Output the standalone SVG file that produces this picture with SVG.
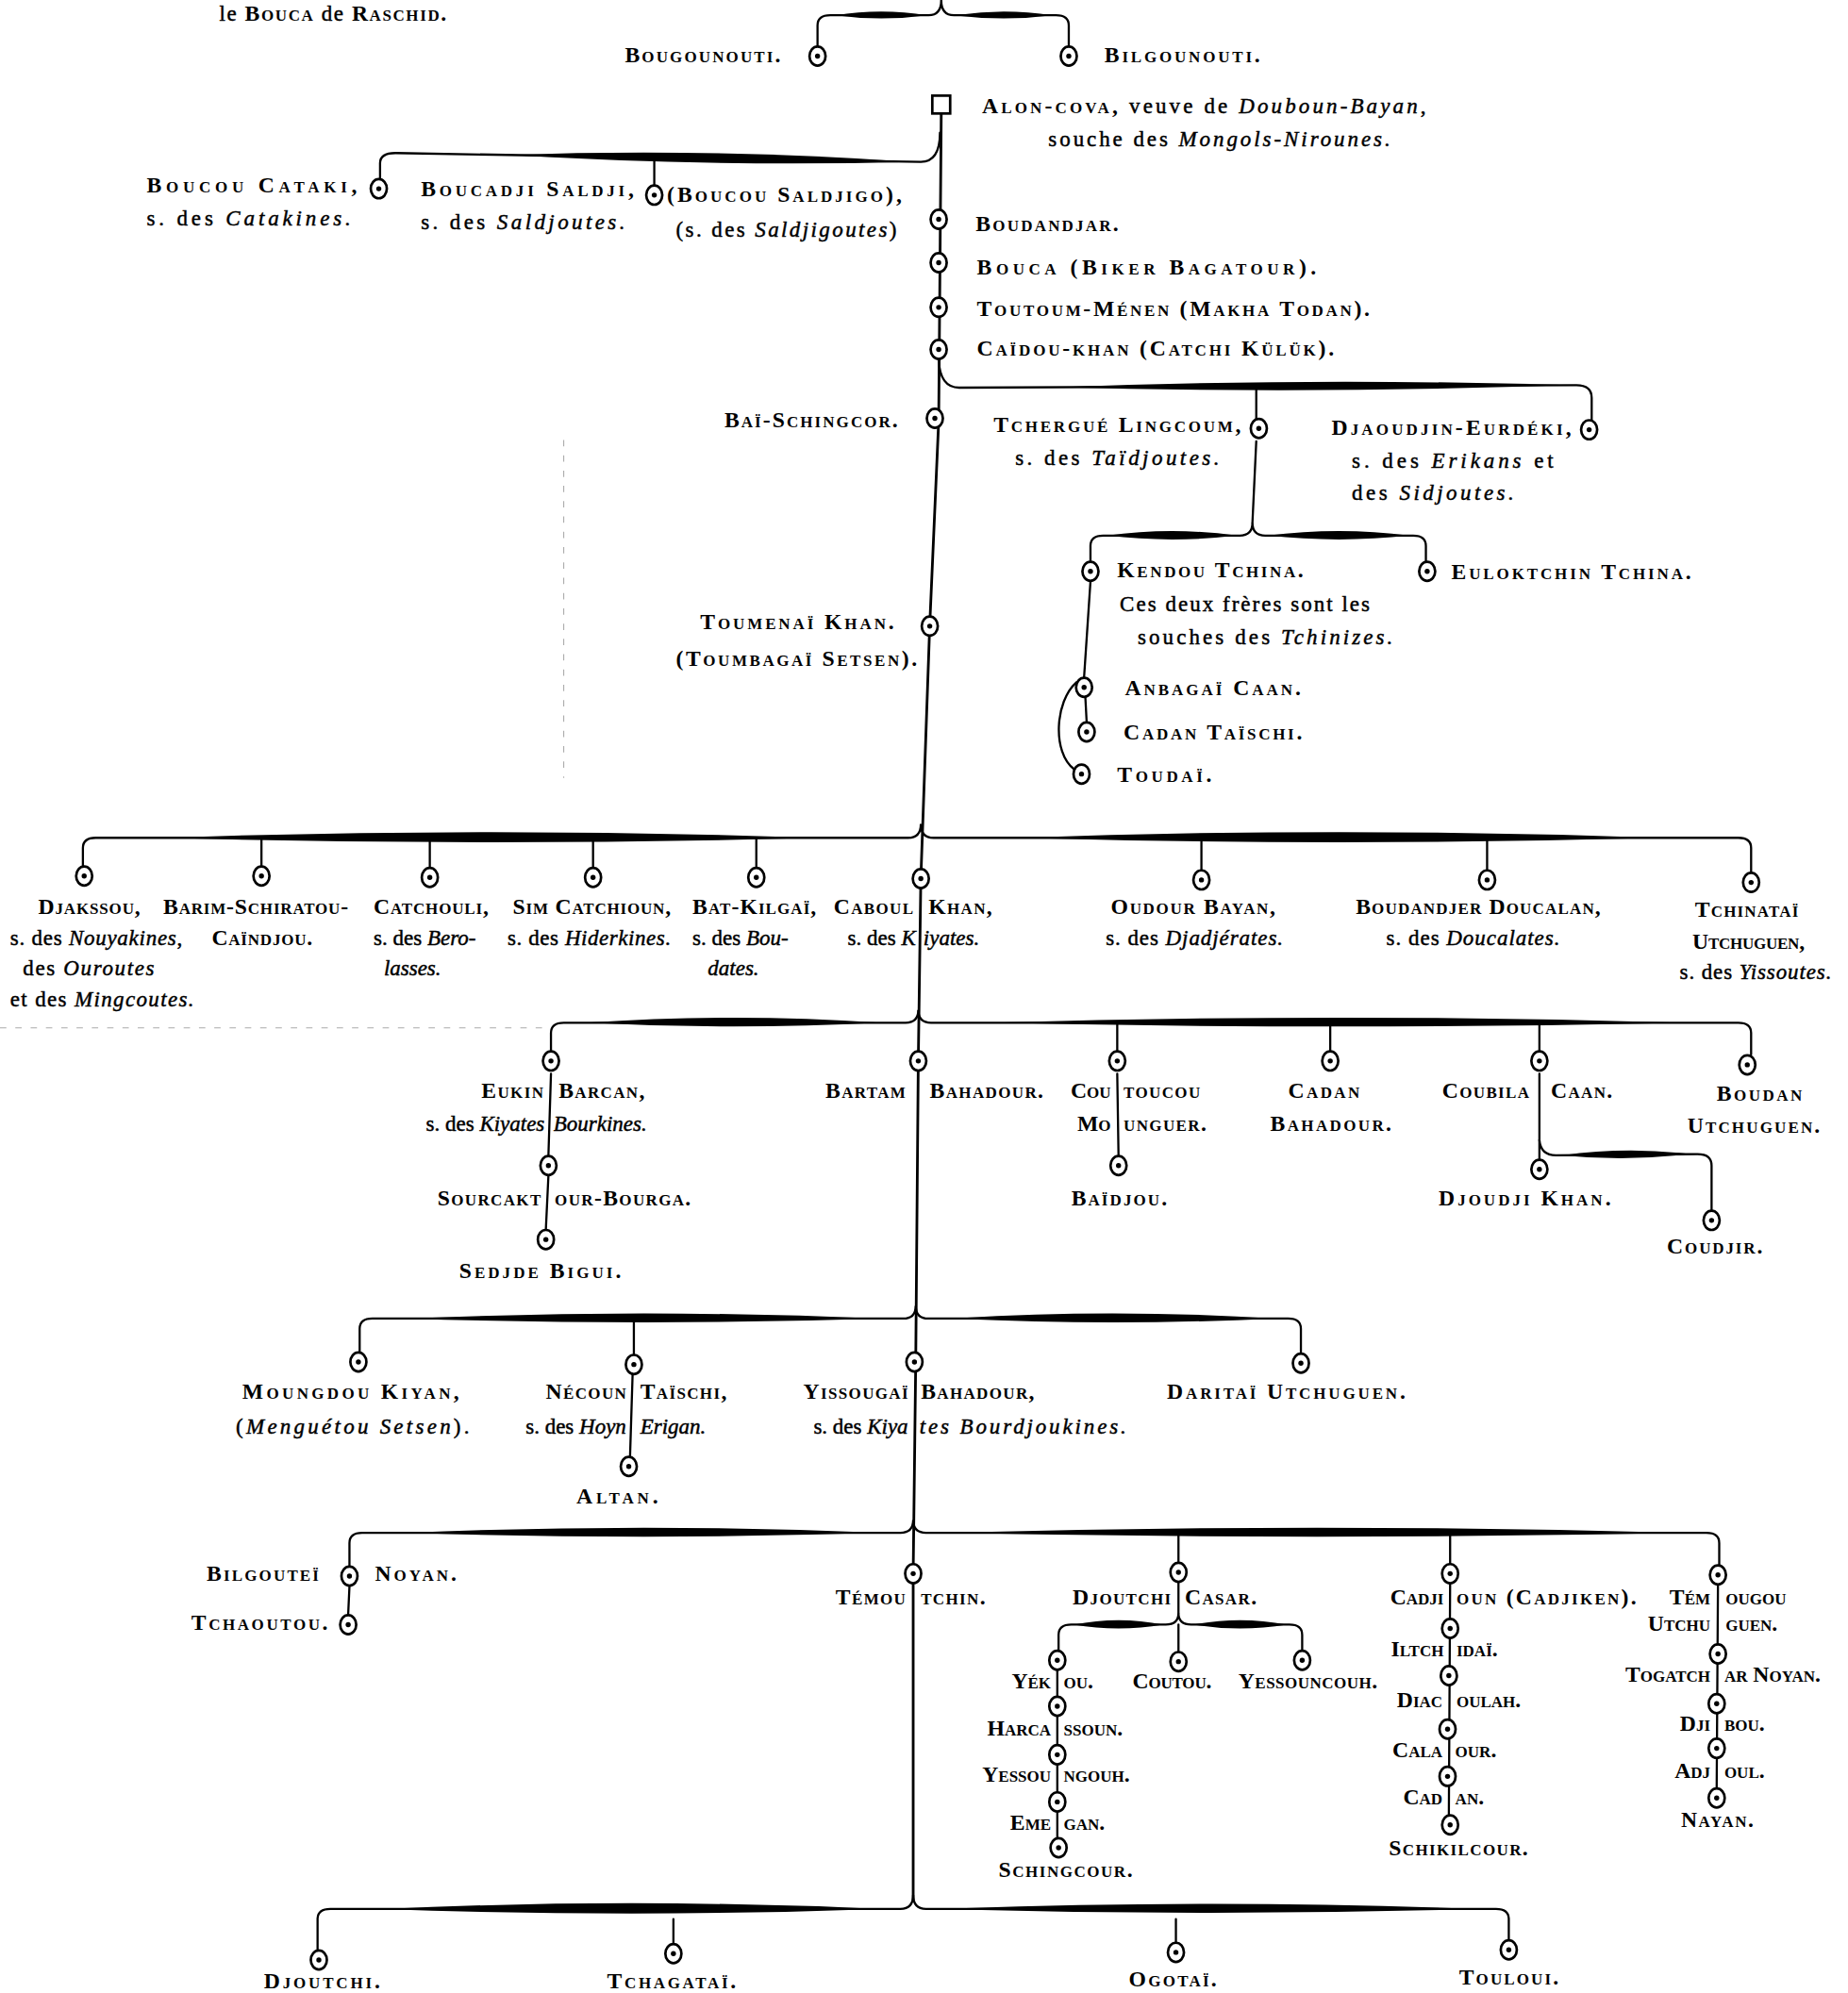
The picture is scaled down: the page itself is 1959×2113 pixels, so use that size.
<svg xmlns="http://www.w3.org/2000/svg" xmlns:xlink="http://www.w3.org/1999/xlink" width="1959" height="2113" viewBox="0 0 1959 2113">
<style>
.n{font-family:"Liberation Serif",serif;font-weight:bold;font-variant:small-caps;font-size:17.5px;fill:#000}
.r{font-family:"Liberation Serif",serif;font-weight:normal;font-variant:normal;font-size:17px;fill:#000;stroke:#000;stroke-width:0.35}
.i{font-style:italic}
.k{letter-spacing:1px}
.l{fill:none;stroke:#000;stroke-width:1.7;stroke-linecap:round}
.m{fill:none;stroke:#000;stroke-width:2.1}
.s{fill:#000}
.f{fill:none;stroke:#aaa;stroke-width:0.8;stroke-dasharray:5 7}
</style>
<defs>
<g id="c"><ellipse cx="0" cy="0" rx="6.3" ry="7.5" fill="#fff" stroke="#000" stroke-width="2"/><circle cx="0" cy="0" r="2" fill="#000"/></g>
</defs>
<rect x="0" y="0" width="1959" height="2113" fill="#fff"/>
<g transform="scale(1.352)">
<g id="faint">
<path class="f" d="M442,345 L442,610"/>
<path class="f" d="M0,806 L430,806"/>
</g>
<g id="connectors">
<path class="m" d="M738,89 L736,330 L729,490 L722,689 L720,832 L718,1068 L716,1234 L716,1490"/>
<path class="l" d="M641,36 L641,20 Q641,12 651,12 L728,12 Q738,12 738,0 Q738,12 748,12 L828,12 Q838,12 838,20 L838,36"/>
<path class="s" d="M655,12 Q691,6 727,12 Q691,17 655,12Z M749,12 Q787,6 825,12 Q787,17 749,12Z"/>
<path class="l" d="M737,104 Q737,127 722,127 L310,120 Q298,120 298,128 L298,140"/>
<path class="s" d="M400,121.5 Q557,116 715,127 Q557,131 400,121.5Z"/>
<path class="l" d="M513,123 L513,145"/>
<path class="l" d="M736,282 Q737,304 752,304 L1236,302 Q1248,302 1248,312 L1248,329"/>
<path class="s" d="M830,303.7 Q1030,296 1230,302 Q1030,309 830,303.7Z"/>
<path class="l" d="M985,304 L985,328"/>
<path class="l" d="M985,346 L982,410"/>
<path class="l" d="M855,440 L855,428 Q855,420 865,420 L972,420 Q982,420 982,410 Q982,420 992,420 L1108,420 Q1118,420 1118,428 L1118,440"/>
<path class="s" d="M868,420 Q919,413 970,420 Q919,426 868,420Z M994,420 Q1050,413 1105,420 Q1050,426 994,420Z"/>
<path class="l" d="M855,456 L850,531 M851,547 L852,566"/>
<path class="l" d="M844,535 C827,550 825,590 842,603"/>
<path class="l" d="M65,679 L65,665 Q65,657 75,657 L712,657 Q722,657 722,646 Q722,657 732,657 L1363,657 Q1373,657 1373,665 L1373,684"/>
<path class="s" d="M130,657 Q385,648 640,657 Q385,664 130,657Z M800,657 Q1050,648 1300,657 Q1050,664 800,657Z"/>
<path class="l" d="M205,657 L205,679 M337,657 L337,680 M465,657 L465,680 M593,657 L593,680 M942,657 L942,682 M1166,657 L1166,682"/>
<path class="l" d="M432,824 L432,810 Q432,802 442,802 L710,802 Q720,802 720,792 Q720,802 730,802 L1363,802 Q1373,802 1373,810 L1373,827"/>
<path class="s" d="M460,802 Q575,794 690,802 Q575,808 460,802Z M780,802 Q1050,794 1320,802 Q1050,808 780,802Z"/>
<path class="l" d="M876,802 L876,824 M1043,802 L1043,824 M1207,802 L1207,824"/>
<path class="l" d="M432,842 L430,906 M430,922 L428,964"/>
<path class="l" d="M876,842 L877,906"/>
<path class="l" d="M1207,842 L1207,909"/>
<path class="l" d="M1207,894 Q1208,906 1220,906 L1331,905 Q1342,905 1342,914 L1342,949"/>
<path class="s" d="M1225,906 Q1275,899 1325,905 Q1275,911 1225,906Z"/>
<path class="l" d="M282,1060 L282,1042 Q282,1034 292,1034 L708,1034 Q718,1034 718,1024 Q718,1034 728,1034 L1010,1034 Q1020,1034 1020,1042 L1020,1061"/>
<path class="s" d="M320,1034 Q505,1026 690,1034 Q505,1040 320,1034Z M745,1034 Q872,1026 1000,1034 Q872,1040 745,1034Z"/>
<path class="l" d="M497,1034 L497,1062 M496,1078 L494,1142"/>
<path class="l" d="M274,1228 L274,1210 Q274,1202 284,1202 L706,1202 Q716,1202 716,1192 Q716,1202 726,1202 L1338,1202 Q1348,1202 1348,1210 L1348,1227"/>
<path class="s" d="M320,1202 Q505,1194 690,1202 Q505,1208 320,1202Z M745,1202 Q1032,1194 1320,1202 Q1032,1208 745,1202Z"/>
<path class="l" d="M924,1202 L924,1225 M1137,1202 L1137,1226"/>
<path class="l" d="M274,1244 L273,1266"/>
<path class="l" d="M924,1241 L924,1265"/>
<path class="l" d="M830,1294 L830,1282 Q830,1274 840,1274 L914,1274 Q924,1274 924,1265 Q924,1274 934,1274 L1011,1274 Q1021,1274 1021,1282 L1021,1294"/>
<path class="s" d="M842,1274 Q877,1267 912,1274 Q877,1280 842,1274Z M936,1274 Q972,1267 1009,1274 Q972,1280 936,1274Z"/>
<path class="l" d="M924,1274 L924,1295"/>
<path class="l" d="M829,1310 L829,1442"/>
<path class="l" d="M1137,1242 L1136,1424"/>
<path class="l" d="M1347,1243 L1346,1402"/>
<path class="l" d="M249,1529 L249,1505 Q249,1497 259,1497 L706,1497 Q716,1497 716,1486 Q716,1497 726,1497 L1173,1497 Q1183,1497 1183,1505 L1183,1521"/>
<path class="s" d="M300,1497 Q495,1488 690,1497 Q495,1504 300,1497Z M740,1497 Q950,1489 1160,1497 Q950,1503 740,1497Z"/>
<path class="l" d="M528,1505 L528,1524 M922,1505 L922,1523"/>
</g>

<g id="n-raschid"><text class="n" x="172" y="16" textLength="178"><tspan class="r">le </tspan>Bouca<tspan class="r"> de </tspan>Raschid.</text></g>
<g id="n-bougounouti"><use xlink:href="#c" x="641" y="44"/><text class="n" x="490" y="49" textLength="122">Bougounouti.</text></g>
<g id="n-bilgounouti"><use xlink:href="#c" x="838" y="44"/><text class="n" x="866" y="49" textLength="122">Bilgounouti.</text></g>
<g id="n-aloncova"><rect x="731" y="75" width="14" height="14" fill="#fff" stroke="#000" stroke-width="2"/>
<text class="n" x="770" y="89" textLength="348">Alon-cova, <tspan class="r">veuve de </tspan><tspan class="r i">Douboun-Bayan</tspan><tspan class="r">,</tspan></text>
<text class="r" x="822" y="115" textLength="268">souche des <tspan class="i">Mongols-Nirounes.</tspan></text></g>
<g id="n-boucou-cataki"><use xlink:href="#c" x="297" y="148"/><text class="n" x="115" y="151" textLength="165">Boucou Cataki,</text><text class="r" x="115" y="177" textLength="160">s. des <tspan class="i">Catakines.</tspan></text></g>
<g id="n-boucadji-saldji"><use xlink:href="#c" x="513" y="153"/><text class="n" x="330" y="154" textLength="167">Boucadji Saldji,</text><text class="r" x="330" y="180" textLength="160">s. des <tspan class="i">Saldjoutes.</tspan></text>
<text class="n" x="523" y="158" textLength="184">(Boucou Saldjigo),</text><text class="r" x="530" y="186" textLength="173">(s. des <tspan class="i">Saldjigoutes</tspan>)</text></g>
<g id="n-boudandjar"><use xlink:href="#c" x="736" y="172"/><text class="n" x="765" y="181" textLength="112">Boudandjar.</text></g>
<g id="n-bouca"><use xlink:href="#c" x="736" y="206"/><text class="n" x="766" y="215" textLength="266">Bouca (Biker Bagatour).</text></g>
<g id="n-toutoum"><use xlink:href="#c" x="736" y="241"/><text class="n" x="766" y="248" textLength="308">Toutoum-Ménen (Makha Todan).</text></g>
<g id="n-caidou"><use xlink:href="#c" x="736" y="274"/><text class="n" x="766" y="279" textLength="280">Caïdou-khan (Catchi Külük).</text></g>
<g id="n-baischingcor"><use xlink:href="#c" x="733" y="328"/><text class="n" x="568" y="335" textLength="136">Baï-Schingcor.</text></g>
<g id="n-tchergue"><use xlink:href="#c" x="987" y="336"/><text class="n" x="779" y="339" textLength="194">Tchergué Lingcoum,</text><text class="r" x="796" y="365" textLength="160">s. des <tspan class="i">Taïdjoutes.</tspan></text></g>
<g id="n-djaoudjin"><use xlink:href="#c" x="1246" y="337"/><text class="n" x="1044" y="341" textLength="188">Djaoudjin-Eurdéki,</text><text class="r" x="1060" y="367" textLength="158">s. des <tspan class="i">Erikans</tspan> et</text><text class="r" x="1060" y="392" textLength="127">des <tspan class="i">Sidjoutes.</tspan></text></g>
<g id="n-kendou"><use xlink:href="#c" x="855" y="448"/><text class="n" x="876" y="453" textLength="146">Kendou Tchina.</text></g>
<g id="n-euloktchin"><use xlink:href="#c" x="1119" y="448"/><text class="n" x="1138" y="454" textLength="188">Euloktchin Tchina.</text></g>
<g id="n-note-tchinizes"><text class="r" x="878" y="479" textLength="196">Ces deux frères sont les</text><text class="r" x="892" y="505" textLength="200">souches des <tspan class="i">Tchinizes.</tspan></text></g>
<g id="n-anbagai"><use xlink:href="#c" x="850" y="539"/><text class="n" x="882" y="545" textLength="138">Anbagaï Caan.</text></g>
<g id="n-cadan-taischi"><use xlink:href="#c" x="852" y="574"/><text class="n" x="881" y="580" textLength="140">Cadan Taïschi.</text></g>
<g id="n-toudai"><use xlink:href="#c" x="848" y="607"/><text class="n" x="876" y="613" textLength="74">Toudaï.</text></g>
<g id="n-toumenai"><use xlink:href="#c" x="729" y="491"/><text class="n" x="549" y="493" textLength="152">Toumenaï Khan.</text><text class="n" x="530" y="522" textLength="189">(Toumbagaï Setsen).</text></g>

<g id="n-djakssou"><use xlink:href="#c" x="66" y="687"/><text class="n" x="30" y="717" textLength="80">Djakssou,</text><text class="r" x="8" y="741" textLength="135">s. des <tspan class="i">Nouyakines</tspan>,</text><text class="r" x="18" y="765" textLength="103">des <tspan class="i">Ouroutes</tspan></text><text class="r" x="8" y="789" textLength="144">et des <tspan class="i">Mingcoutes.</tspan></text></g>
<g id="n-barim"><use xlink:href="#c" x="205" y="687"/><text class="n" x="128" y="717" textLength="145">Barim-Schiratou-</text><text class="n" x="166" y="741" textLength="79">Caïndjou.</text></g>
<g id="n-catchouli"><use xlink:href="#c" x="337" y="688"/><text class="n" x="293" y="717" textLength="90">Catchouli,</text><text class="r" x="293" y="741">s. des <tspan class="i">Bero-</tspan></text><text class="r i" x="301" y="765">lasses.</text></g>
<g id="n-sim"><use xlink:href="#c" x="465" y="688"/><text class="n" x="402" y="717" textLength="124">Sim Catchioun,</text><text class="r" x="398" y="741" textLength="128">s. des <tspan class="i">Hiderkines.</tspan></text></g>
<g id="n-batkilgai"><use xlink:href="#c" x="593" y="688"/><text class="n" x="543" y="717" textLength="97">Bat-Kilgaï,</text><text class="r" x="543" y="741">s. des <tspan class="i">Bou-</tspan></text><text class="r i" x="555" y="765">dates.</text></g>
<g id="n-caboul"><use xlink:href="#c" x="722" y="689"/><text class="n k" x="717" y="717" text-anchor="end">Caboul</text><text class="n k" x="728" y="717">Khan,</text><text class="r" x="718" y="741" text-anchor="end">s. des <tspan class="i">K</tspan></text><text class="r i" x="724" y="741">iyates.</text></g>
<g id="n-oudour"><use xlink:href="#c" x="942" y="690"/><text class="n" x="871" y="717" textLength="129">Oudour Bayan,</text><text class="r" x="867" y="741" textLength="139">s. des <tspan class="i">Djadjérates.</tspan></text></g>
<g id="n-boudandjer"><use xlink:href="#c" x="1166" y="690"/><text class="n" x="1063" y="717" textLength="192">Boudandjer Doucalan,</text><text class="r" x="1087" y="741" textLength="136">s. des <tspan class="i">Doucalates.</tspan></text></g>
<g id="n-tchinatai"><use xlink:href="#c" x="1373" y="692"/><text class="n" x="1329" y="719" textLength="81">Tchinataï</text><text class="n" x="1327" y="744" textLength="88">Utchuguen,</text><text class="r" x="1317" y="768" textLength="119">s. des <tspan class="i">Yissoutes.</tspan></text></g>

<g id="n-eukin"><use xlink:href="#c" x="432" y="832"/><text class="n k" x="427" y="861" text-anchor="end">Eukin</text><text class="n k" x="438" y="861">Barcan,</text><text class="r" x="427" y="887" text-anchor="end">s. des <tspan class="i">Kiyates</tspan></text><text class="r i" x="434" y="887">Bourkines.</text></g>
<g id="n-sourcaktour"><use xlink:href="#c" x="430" y="914"/><text class="n k" x="425" y="945" text-anchor="end">Sourcakt</text><text class="n k" x="435" y="945">our-Bourga.</text></g>
<g id="n-sedjde"><use xlink:href="#c" x="428" y="972"/><text class="n" x="360" y="1002" textLength="127">Sedjde Bigui.</text></g>
<g id="n-bartam"><use xlink:href="#c" x="720" y="832"/><text class="n k" x="711" y="861" text-anchor="end">Bartam</text><text class="n k" x="729" y="861">Bahadour.</text></g>
<g id="n-coutoucou"><use xlink:href="#c" x="876" y="832"/><text class="n" x="871" y="861" text-anchor="end">Cou</text><text class="n k" x="881" y="861">toucou</text><text class="n" x="871" y="887" text-anchor="end">Mo</text><text class="n k" x="881" y="887">unguer.</text></g>
<g id="n-baidjou"><use xlink:href="#c" x="877" y="914"/><text class="n" x="840" y="945" textLength="75">Baïdjou.</text></g>
<g id="n-cadan-bahadour"><use xlink:href="#c" x="1043" y="832"/><text class="n" x="1010" y="861" textLength="56">Cadan</text><text class="n" x="996" y="887" textLength="95">Bahadour.</text></g>
<g id="n-coubila"><use xlink:href="#c" x="1207" y="832"/><text class="n k" x="1200" y="861" text-anchor="end">Coubila</text><text class="n k" x="1216" y="861">Caan.</text></g>
<g id="n-djoudji"><use xlink:href="#c" x="1207" y="917"/><text class="n" x="1128" y="945" textLength="135">Djoudji Khan.</text></g>
<g id="n-coudjir"><use xlink:href="#c" x="1342" y="957"/><text class="n" x="1307" y="983" textLength="75">Coudjir.</text></g>
<g id="n-boudan"><use xlink:href="#c" x="1370" y="835"/><text class="n" x="1346" y="863" textLength="67">Boudan</text><text class="n" x="1323" y="888" textLength="104">Utchuguen.</text></g>

<g id="n-moungdou"><use xlink:href="#c" x="281" y="1068"/><text class="n" x="190" y="1097" textLength="170">Moungdou Kiyan,</text><text class="r" x="185" y="1124" textLength="183">(<tspan class="i">Menguétou Setsen</tspan>).</text></g>
<g id="n-necoun"><use xlink:href="#c" x="497" y="1070"/><text class="n k" x="492" y="1097" text-anchor="end">Nécoun</text><text class="n k" x="502" y="1097">Taïschi,</text><text class="r" x="491" y="1124" text-anchor="end">s. des <tspan class="i">Hoyn</tspan></text><text class="r i" x="502" y="1124">Erigan.</text></g>
<g id="n-altan"><use xlink:href="#c" x="493" y="1150"/><text class="n" x="452" y="1179" textLength="64">Altan.</text></g>
<g id="n-yissougai"><use xlink:href="#c" x="717" y="1068"/><text class="n k" x="713" y="1097" text-anchor="end">Yissougaï</text><text class="n k" x="722" y="1097">Bahadour,</text><text class="r" x="712" y="1124" text-anchor="end">s. des <tspan class="i">Kiya</tspan></text><text class="r i" x="721" y="1124" textLength="162">tes Bourdjoukines.</text></g>
<g id="n-daritai"><use xlink:href="#c" x="1020" y="1069"/><text class="n" x="915" y="1097" textLength="187">Daritaï Utchuguen.</text></g>

<g id="n-bilgoutei"><use xlink:href="#c" x="274" y="1236"/><text class="n" x="162" y="1240" textLength="88">Bilgouteï</text><text class="n" x="294" y="1240" textLength="64">Noyan.</text></g>
<g id="n-tchaoutou"><use xlink:href="#c" x="273" y="1274"/><text class="n" x="150" y="1278" textLength="107">Tchaoutou.</text></g>
<g id="n-temoutchin"><use xlink:href="#c" x="716" y="1234"/><text class="n k" x="711" y="1258" text-anchor="end">Témou</text><text class="n k" x="722" y="1258">tchin.</text></g>
<g id="n-djoutchi-casar"><use xlink:href="#c" x="924" y="1233"/><text class="n k" x="919" y="1258" text-anchor="end">Djoutchi</text><text class="n k" x="929" y="1258">Casar.</text></g>
<g id="n-yekou"><use xlink:href="#c" x="829" y="1302"/><text class="n" x="824" y="1324" text-anchor="end">Yék</text><text class="n" x="834" y="1324">ou.</text></g>
<g id="n-coutou"><use xlink:href="#c" x="924" y="1303"/><text class="n" x="888" y="1324" textLength="62">Coutou.</text></g>
<g id="n-yessouncouh"><use xlink:href="#c" x="1021" y="1302"/><text class="n" x="971" y="1324" textLength="109">Yessouncouh.</text></g>
<g id="n-harcassoun"><use xlink:href="#c" x="829" y="1338"/><text class="n" x="824" y="1361" text-anchor="end">Harca</text><text class="n" x="834" y="1361">ssoun.</text></g>
<g id="n-yessoungouh"><use xlink:href="#c" x="829" y="1376"/><text class="n" x="824" y="1397" text-anchor="end">Yessou</text><text class="n" x="834" y="1397">ngouh.</text></g>
<g id="n-emegan"><use xlink:href="#c" x="829" y="1413"/><text class="n" x="824" y="1435" text-anchor="end">Eme</text><text class="n" x="834" y="1435">gan.</text></g>
<g id="n-schingcour"><use xlink:href="#c" x="830" y="1449"/><text class="n" x="783" y="1472" textLength="105">Schingcour.</text></g>
<g id="n-cadjioun"><use xlink:href="#c" x="1137" y="1234"/><text class="n" x="1132" y="1258" text-anchor="end">Cadji</text><text class="n" x="1142" y="1258" textLength="141">oun (Cadjiken).</text></g>
<g id="n-iltchidai"><use xlink:href="#c" x="1137" y="1277"/><text class="n" x="1132" y="1299" text-anchor="end">Iltch</text><text class="n" x="1142" y="1299">idaï.</text></g>
<g id="n-diacoulah"><use xlink:href="#c" x="1136" y="1314"/><text class="n" x="1131" y="1339" text-anchor="end">Diac</text><text class="n" x="1142" y="1339">oulah.</text></g>
<g id="n-calaour"><use xlink:href="#c" x="1135" y="1356"/><text class="n" x="1131" y="1378" text-anchor="end">Cala</text><text class="n" x="1141" y="1378">our.</text></g>
<g id="n-cadan2"><use xlink:href="#c" x="1135" y="1393"/><text class="n" x="1131" y="1415" text-anchor="end">Cad</text><text class="n" x="1141" y="1415">an.</text></g>
<g id="n-schikilcour"><use xlink:href="#c" x="1137" y="1431"/><text class="n" x="1089" y="1455" textLength="109">Schikilcour.</text></g>
<g id="n-temougou"><use xlink:href="#c" x="1347" y="1235"/><text class="n" x="1341" y="1258" text-anchor="end">Tém</text><text class="n" x="1353" y="1258">ougou</text><text class="n" x="1341" y="1279" text-anchor="end">Utchu</text><text class="n" x="1353" y="1279">guen.</text></g>
<g id="n-togatchar"><use xlink:href="#c" x="1347" y="1297"/><text class="n" x="1341" y="1319" text-anchor="end">Togatch</text><text class="n" x="1352" y="1319">ar Noyan.</text></g>
<g id="n-djibou"><use xlink:href="#c" x="1346" y="1336"/><text class="n" x="1341" y="1357" text-anchor="end">Dji</text><text class="n" x="1352" y="1357">bou.</text></g>
<g id="n-adjoul"><use xlink:href="#c" x="1346" y="1371"/><text class="n" x="1341" y="1394" text-anchor="end">Adj</text><text class="n" x="1352" y="1394">oul.</text></g>
<g id="n-nayan"><use xlink:href="#c" x="1346" y="1410"/><text class="n" x="1318" y="1433" textLength="57">Nayan.</text></g>

<g id="n-djoutchi"><use xlink:href="#c" x="250" y="1537"/><text class="n" x="207" y="1559" textLength="91">Djoutchi.</text></g>
<g id="n-tchagatai"><use xlink:href="#c" x="528" y="1532"/><text class="n" x="476" y="1559" textLength="101">Tchagataï.</text></g>
<g id="n-ogotai"><use xlink:href="#c" x="922" y="1531"/><text class="n" x="885" y="1558" textLength="69">Ogotaï.</text></g>
<g id="n-touloui"><use xlink:href="#c" x="1183" y="1529"/><text class="n" x="1144" y="1556" textLength="78">Touloui.</text></g>
</g>
</svg>
